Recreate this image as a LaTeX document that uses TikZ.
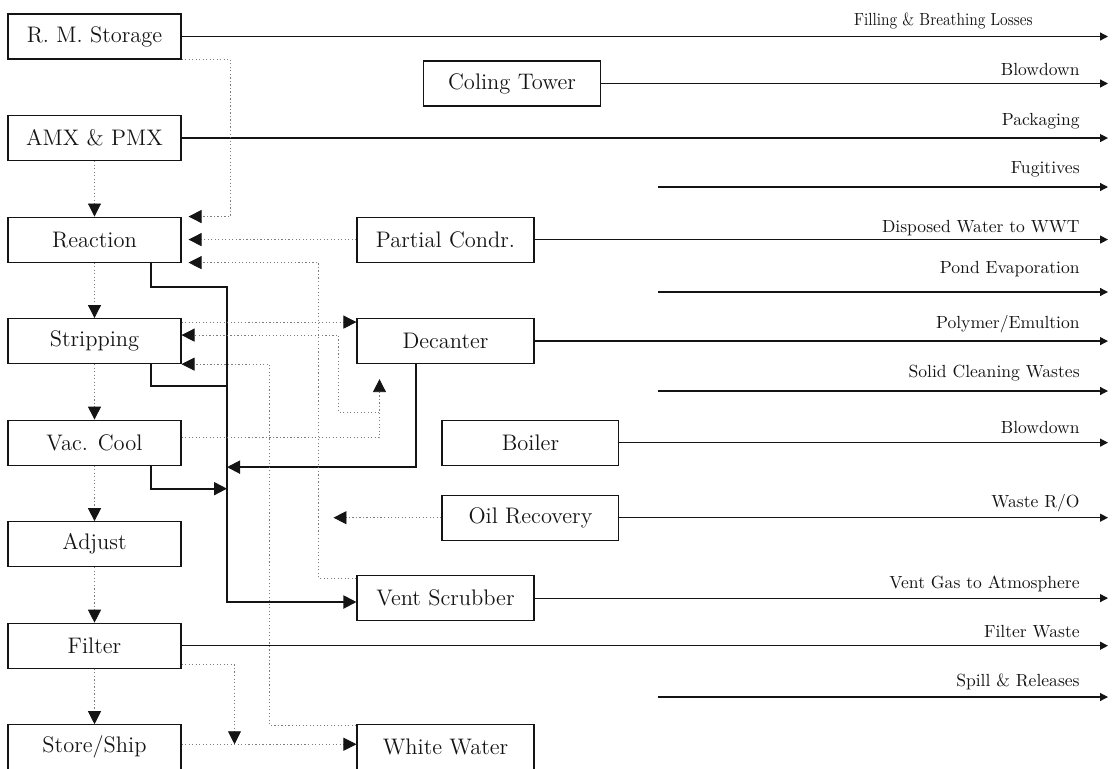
\documentclass[tikz,border=0pt]{standalone}
\usepackage{tikz}
\usetikzlibrary{arrows.meta, positioning, calc}
\definecolor{pfBlack}{RGB}{20,20,20}
\definecolor{pfGray}{RGB}{125,125,125}

\begin{document}
\begin{tikzpicture}[
    x=0.02cm, y=-0.02cm,
    node distance=1.11cm,
    procbox/.style={draw=pfBlack, line width=0.6pt, rectangle, align=center, inner sep=2pt, font=\fontsize{12.8}{15}\selectfont, text=pfBlack, minimum width=3.46cm, minimum height=0.9cm},
    unitbox/.style={procbox, minimum width=3.54cm},
    outflow/.style={-{Triangle[length=0.16cm,width=0.16cm]}, line width=0.7pt, draw=pfBlack},
    mainflow/.style={line width=1.1pt, draw=pfBlack},
    auxflow/.style={draw=pfGray, line width=0.5pt, dash pattern=on 0.7pt off 1.3pt},
    bigtip/.style={-{Triangle[length=0.26cm,width=0.26cm,color=pfBlack]}},
    outlabel/.style={anchor=base east, inner sep=0pt, font=\normalsize, text=pfBlack}
]
\useasboundingbox (0,0) rectangle (1112,768);

% Process Column
\node (rms) [procbox] at (94.5,36.5) {R. M. Storage};
\node (amx) [procbox, below=of rms] {AMX \& PMX};
\node (react) [procbox, below=of amx] {Reaction};
\node (strip) [procbox, below=of react] {Stripping};
\node (vac) [procbox, below=of strip] {Vac. Cool};
\node (adj) [procbox, below=of vac] {Adjust};
\node (filt) [procbox, below=of adj] {Filter};
\node (store) [procbox, below=of filt] {Store/Ship};

% Auxiliary Units
\node (ct) [unitbox] at (512,83.5) {Coling Tower};
\node (pc) [unitbox, right=3.5cm of react] {Partial Condr.};
\node (dec) [unitbox, right=3.5cm of strip] {Decanter};
\node (boil) [unitbox, right=5.2cm of vac] {Boiler};
\node (oil) [unitbox, below=0.58cm of boil] {Oil Recovery};
\node (vent) [unitbox, below=4.22cm of dec] {Vent Scrubber};
\node (ww) [unitbox, right=3.5cm of store] {White Water};

% Release Streams
\coordinate (rim) at (1108,0);
\foreach \src in {rms, ct, amx, pc, dec, boil, oil, vent, filt}
    \draw [outflow] (\src.east) -- (\src.east -| rim);
\foreach \y [count=\i] in {187,292,391,697} {
    \coordinate (free\i) at (658,\y);
    \draw [outflow] (free\i) -- (free\i -| rim);
}

\node (lbl0) [outlabel] at (1033,25) {\scalebox{0.87}[1]{Filling \& Breathing Losses}};
\foreach \b/\txt [count=\i] in {75/Blowdown, 125/Packaging, 173/Fugitives, 232/Disposed Water to WWT, 273/Pond Evaporation, 328/{Polymer/Emultion}, 377/Solid Cleaning Wastes, 433/Blowdown, 507/{Waste R/O}, 588/Vent Gas to Atmosphere, 637/Filter Waste, 686/Spill \& Releases}
    \node (lbl\i) [outlabel] at (1080,\b) {\txt};

% Main Transfer Lines
\coordinate (bustop) at (227,287);
\coordinate (busbot) at (227,602);
\draw [mainflow, bigtip] ([xshift=1.13cm]react.south) |- (bustop) -- (busbot) -- (busbot -| vent.west);
\draw [mainflow] ([xshift=1.13cm]strip.south) |- ($(strip.south -| bustop)+(0,22)$);
\draw [mainflow, bigtip] ([xshift=1.13cm]vac.south) |- ($(vac.south -| bustop)+(0,23)$);
\draw [mainflow, bigtip] ([xshift=-0.59cm]dec.south) |- ($(dec.south -| bustop)+(0,103)$);

% Process Sequence
\foreach \a/\b in {amx/react, react/strip, strip/vac, vac/adj, adj/filt, filt/store}
    \draw [auxflow, bigtip] (\a) -- (\b);

% Recycle and Side Streams
\draw [auxflow, bigtip, shorten >=0.14cm] (rms.south east) -| ($(react.north east)+(49,0)$) -- (react.north east);
\draw [auxflow, bigtip, shorten >=0.14cm] (pc) -- (react);
\draw [auxflow, bigtip, shorten >=0.14cm] ($(vent.north west)+(0,3)$) -| ($(react.south east)+(137,0)$) -- (react.south east);
\draw [auxflow, bigtip] ($(strip.north east)+(0,4)$) -- ($(dec.north west)+(0,4)$);

\coordinate (dectip) at ($(dec.south west)+(23,15)$);
\coordinate (loopjoin) at ($(dec.south west)+(23,48)$);
\draw [auxflow, bigtip] ($(vac.east)+(0,-5)$) -| (dectip);
\draw [auxflow, bigtip] (loopjoin) -| ($(strip.north east)+(157,17)$) -- ($(strip.north east)+(0,17)$);
\draw [auxflow, bigtip] ($(ww.north west)+(0,1)$) -| ($(strip.south east)+(88,0)$) -- (strip.south east);

\coordinate (shipjoin) at ($(store.east)+(53,-3)$);
\draw [auxflow, bigtip] ($(filt.south east)+(0,-4)$) -| (shipjoin);
\draw [auxflow, bigtip] ($(store.east)+(0,-3)$) -- ($(store.east -| ww.west)+(0,-3)$);

\coordinate (oilend) at ($(oil.west)+(-108,0)$);
\draw [auxflow, bigtip] (oil) -- (oilend);

\end{tikzpicture}
\end{document}
